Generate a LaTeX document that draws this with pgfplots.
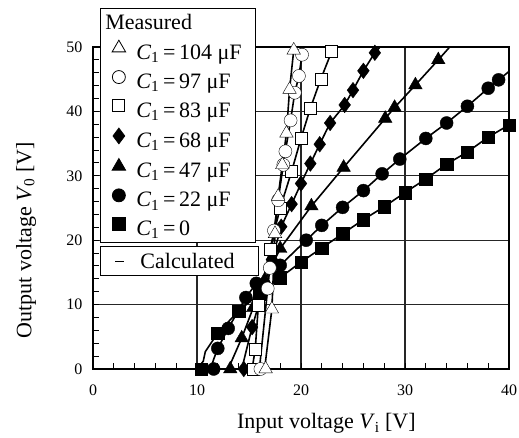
\documentclass[border=0pt]{standalone}
\usepackage{fontspec}
\setmainfont{Liberation Serif}
\usepackage{pgfplots}
\usepackage{pgfplotstable}
\pgfplotsset{compat=1.18}

% ---- measured output voltage V0 against input voltage Vi ----
\pgfplotstableread{
x y
10.4 0
12.0 5.6
14.0 9.0
16.0 11.7
18.0 14.2
20.0 16.6
22.0 18.8
24.0 21.0
26.0 23.2
28.0 25.2
30.0 27.4
32.0 29.5
34.0 31.8
36.0 33.7
38.0 36.0
40.0 37.9
}\measA
\pgfplotstableread{
x y
11.6 0
12.0 3.2
13.0 6.3
14.7 11.1
15.7 13.3
18.0 16.1
20.5 20.0
22.0 22.3
24.0 25.1
26.0 27.7
27.8 30.3
29.5 32.6
32.0 35.8
34.0 38.2
36.0 40.8
38.0 43.6
39.0 44.9
}\measB
\pgfplotstableread{
x y
13.2 0
14.3 4.8
15.4 9.5
16.5 13.8
18.0 18.7
21.0 25.3
24.1 31.3
28.1 38.9
29.0 40.6
31.0 44.1
33.2 48.0
}\measC
\pgfplotstableread{
x y
14.5 0
15.3 6.5
16.3 12.0
17.2 17.0
18.1 22.1
19.1 25.6
20.0 28.8
20.9 31.9
21.8 34.9
22.8 38.2
24.2 41.0
25.0 43.3
26.0 46.3
27.1 49.1
}\measD
\pgfplotstableread{
x y
15.4 0
15.6 3.1
15.9 9.9
17.0 18.6
18.0 25.0
19.1 30.7
20.0 35.8
20.9 40.5
21.9 45.0
22.95 49.3
}\measE
\pgfplotstableread{
x y
16.1 0
16.8 12.5
17.0 15.7
17.4 21.5
17.8 26.2
18.3 31.7
18.5 33.8
19.0 38.6
19.4 42.9
19.8 45.5
20.1 48.8
}\measF
\pgfplotstableread{
x y
16.6 0
17.2 9.3
17.5 21.0
17.8 26.8
18.2 31.7
18.6 36.6
18.9 43.4
19.3 49.5
}\measG

% ---- calculated curves ----
\pgfplotstableread{
x y
10.0 0
10.6 1.2
10.8 2.7
11.3 3.9
12.0 5.6
14.0 9.0
16.0 11.7
18.0 14.2
20.0 16.6
22.0 18.8
24.0 21.0
26.0 23.2
28.0 25.2
30.0 27.4
32.0 29.5
34.0 31.8
36.0 33.7
38.0 36.0
40.0 37.9
}\calcA
\pgfplotstableread{
x y
11.3 0
11.6 1.5
12.0 3.2
13.0 6.3
14.7 11.1
15.7 13.3
18.0 16.1
20.5 20.0
22.0 22.3
24.0 25.1
26.0 27.7
27.8 30.3
29.5 32.6
32.0 35.8
34.0 38.2
36.0 40.8
38.0 43.6
39.0 44.9
40.0 46.2
}\calcB
\pgfplotstableread{
x y
13.0 0
14.3 4.8
15.4 9.5
16.5 13.8
18.0 18.7
21.0 25.3
24.1 31.3
28.1 38.9
29.0 40.6
31.0 44.1
33.2 48.0
34.3 50.0
}\calcC
\pgfplotstableread{
x y
14.3 0
15.3 6.5
16.3 12.0
17.2 17.0
18.1 22.1
19.1 25.6
20.0 28.8
20.9 31.9
21.8 34.9
22.8 38.2
24.2 41.0
25.0 43.3
26.0 46.3
27.1 49.1
27.6 50.0
}\calcD
\pgfplotstableread{
x y
15.3 0
15.6 3.1
15.9 9.9
17.0 18.6
18.0 25.0
19.1 30.7
20.0 35.8
20.9 40.5
21.9 45.0
22.95 49.3
23.1 50.0
}\calcE
\pgfplotstableread{
x y
16.0 0
16.8 12.5
17.0 15.7
17.4 21.5
17.8 26.2
18.3 31.7
18.5 33.8
19.0 38.6
19.4 42.9
19.8 45.5
20.1 48.8
20.2 50.0
}\calcF
\pgfplotstableread{
x y
16.5 0
17.2 9.3
17.5 21.0
17.8 26.8
18.2 31.7
18.6 36.6
18.9 43.4
19.3 49.5
19.4 50.0
}\calcG

\begin{document}
\begin{tikzpicture}
\path[use as bounding box] (0,0) rectangle (519pt,438pt);
\begin{axis}[
  at={(93pt,69pt)}, anchor=south west,
  width=416pt, height=322pt, scale only axis,
  xmin=0, xmax=40, ymin=0, ymax=50,
  xtick={0,10,...,40}, ytick={0,10,...,50},
  minor x tick num=4, minor y tick num=4,
  tick pos=left,
  tick align=inside,
  major tick length=6pt, minor tick length=6pt,
  every tick/.style={black, line width=1pt},
  grid=major,
  major grid style={black!85, line width=1.2pt},
  axis line style={line width=2.4pt},
  /pgf/number format/assume math mode=true,
  ticklabel style={font=\fontsize{16}{19}\selectfont},
  xticklabel style={yshift=-12pt},
  yticklabel style={xshift=-7pt},
  label style={font=\fontsize{22}{26}\selectfont},
  xlabel={Input voltage \textit{V}\textsubscript{i} [V]},
  ylabel={Output voltage \textit{V}\textsubscript{0} [V]},
  xlabel style={at={(axis description cs:0.561,-0.17)}, anchor=center},
  ylabel style={at={(axis description cs:-0.161,0.40)}, anchor=center},
  clip mode=individual,
  reverse legend,
  legend cell align=left,
  legend style={
    at={(0.017,1.121)}, anchor=north west,
    draw=black, line width=0.8pt, fill=white,
    font=\fontsize{22}{26}\selectfont,
    row sep=7.5pt, inner xsep=3pt, inner ysep=3.5pt,
    nodes={inner sep=2pt},
    /tikz/every even column/.append style={column sep=0pt},
  },
  legend image code/.code={%
    \path (0pt,0pt) (30pt,0pt);
    \draw[mark repeat=2,mark phase=2,#1] plot coordinates {(0pt,5pt) (15pt,5pt) (30pt,5pt)};},
  calc/.style={black, line width=1.6pt, no markers, forget plot},
  meas/.style={only marks, mark options={line width=1.1pt, draw=black}},
]
% calculated curves
\addplot[calc] table {\calcA};
\addplot[calc] table {\calcB};
\addplot[calc] table {\calcC};
\addplot[calc] table {\calcD};
\addplot[calc] table {\calcE};
\addplot[calc] table {\calcF};
\addplot[calc] table {\calcG};
% measured points
\addplot[meas, mark=square*, mark size=6.2pt, mark options={fill=black}] table {\measA};
\addlegendentry{\textit{C}\textsubscript{1}\,=\,0}
\addplot[meas, mark=*, mark size=6.5pt, mark options={fill=black}] table {\measB};
\addlegendentry{\textit{C}\textsubscript{1}\,=\,22 μF}
\addplot[meas, mark=triangle*, mark size=7.8pt, mark options={fill=black}] table {\measC};
\addlegendentry{\textit{C}\textsubscript{1}\,=\,47 μF}
\addplot[meas, mark=diamond*, mark size=7.8pt, mark options={fill=black}] table {\measD};
\addlegendentry{\textit{C}\textsubscript{1}\,=\,68 μF}
\addplot[meas, mark=square*, mark size=6.0pt, mark options={fill=white}] table {\measE};
\addlegendentry{\textit{C}\textsubscript{1}\,=\,83 μF}
\addplot[meas, mark=*, mark size=6.5pt, mark options={fill=white}] table {\measF};
\addlegendentry{\textit{C}\textsubscript{1}\,=\,97 μF}
\addplot[meas, mark=triangle*, mark size=7.8pt, mark options={fill=white}] table {\measG};
\addlegendentry{\textit{C}\textsubscript{1}\,=\,104 μF\hspace*{9pt}}
\addlegendimage{empty legend}
\addlegendentry{\hspace*{-31pt}Measured}
% box for the calculated curves
\node[draw=black, line width=0.8pt, fill=white, anchor=north west,
      minimum height=29pt, inner sep=0pt,
      font=\fontsize{22}{26}\selectfont]
  at (axis description cs:0.017,0.382)
  {\makebox[158pt][l]{\hspace*{15pt}\rule[6pt]{9pt}{1.5pt}\hspace*{16pt}Calculated}};
\end{axis}
\end{tikzpicture}
\end{document}
